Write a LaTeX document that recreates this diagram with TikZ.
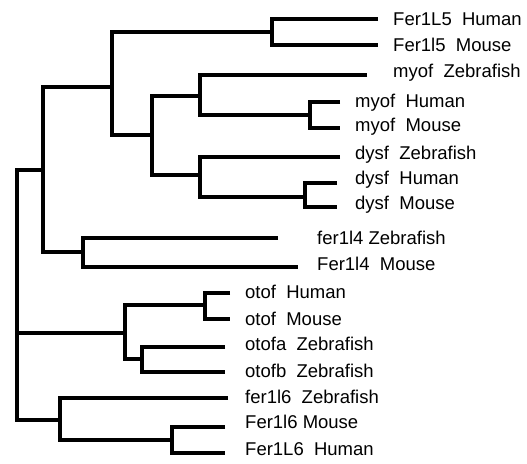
\documentclass[tikz,border=0pt]{standalone}
\usepackage{fontspec}
\setmainfont{Liberation Sans}
\usetikzlibrary{positioning,calc}

\begin{document}
\begin{tikzpicture}[x=1pt, y=-1pt,
    branch/.style={line width=4pt, line join=miter},
    taxon/.style={anchor=west, inner sep=0pt, text height=13.25pt, text depth=0pt, font=\fontsize{18.5}{22}\selectfont}]
    \useasboundingbox (0,0) rectangle (527,463);

    % tips
    \coordinate (t1) at (378,19);
    \coordinate (t2) at (378,45);
    \coordinate (t3) at (367,75);
    \coordinate (t4) at (340,102);
    \coordinate (t5) at (340,128);
    \coordinate (t6) at (340,157);
    \coordinate (t7) at (337,183);
    \coordinate (t8) at (337,207);
    \coordinate (t9) at (278,238);
    \coordinate (t10) at (298,267);
    \coordinate (t11) at (230,293);
    \coordinate (t12) at (230,319);
    \coordinate (t13) at (225,347);
    \coordinate (t14) at (225,372);
    \coordinate (t15) at (228,398);
    \coordinate (t16) at (225,427);
    \coordinate (t17) at (225,453);

    % inner nodes
    \coordinate (R) at (17,333);
    \coordinate (A) at (43,170);
    \coordinate (B) at (112,87);
    \coordinate (F5) at (272,32);
    \coordinate (C) at (152,135);
    \coordinate (M) at (200,96);
    \coordinate (MH) at (310,115);
    \coordinate (D) at (200,175);
    \coordinate (DH) at (305,197);
    \coordinate (F4) at (83,252);
    \coordinate (O) at (125,333);
    \coordinate (OT) at (205,305);
    \coordinate (OZ) at (142,359);
    \coordinate (F6) at (60,420);
    \coordinate (FM) at (172,440);

    % branches
    \draw[branch] (A) -| (R) |- (F6);
    \draw[branch] (R) -- (O);
    \draw[branch] (B) -| (A) |- (F4);
    \draw[branch] (F5) -| (B) |- (C);
    \draw[branch] (t1) -| (F5) |- (t2);
    \draw[branch] (M) -| (C) |- (D);
    \draw[branch] (t3) -| (M) |- (MH);
    \draw[branch] (t4) -| (MH) |- (t5);
    \draw[branch] (t6) -| (D) |- (DH);
    \draw[branch] (t7) -| (DH) |- (t8);
    \draw[branch] (t9) -| (F4) |- (t10);
    \draw[branch] (OT) -| (O) |- (OZ);
    \draw[branch] (t11) -| (OT) |- (t12);
    \draw[branch] (t13) -| (OZ) |- (t14);
    \draw[branch] (t15) -| (F6) |- (FM);
    \draw[branch] (t16) -| (FM) |- (t17);

    % names
    \node[taxon] (n1) at (393,19) {Fer1L5~~Human};
    \node[taxon] (n2) at (393,45) {Fer1l5~~Mouse};
    \node[taxon] (n3) at (393,70.5) {myof~~Zebrafish};
    \node[taxon] (n4) at (355,101) {myof~~Human};
    \node[taxon] (n5) at (355,125) {myof~~Mouse};
    \node[taxon] (n6) at (355,153) {dysf~~Zebrafish};
    \node[taxon] (n7) at (355,178) {dysf~~Human};
    \node[taxon] (n8) at (355,203) {dysf~~Mouse};
    \node[taxon] (n9) at (317,237.5) {fer1l4 Zebrafish};
    \node[taxon] (n10) at (317,264) {Fer1l4~~Mouse};
    \node[taxon] (n11) at (245,291.5) {otof~~Human};
    \node[taxon] (n12) at (245,318.5) {otof~~Mouse};
    \node[taxon] (n13) at (245,343.5) {otofa~~Zebrafish};
    \node[taxon] (n14) at (245,370.5) {otofb~~Zebrafish};
    \node[taxon] (n15) at (245,396.5) {fer1l6~~Zebrafish};
    \node[taxon] (n16) at (245,421.5) {Fer1l6 Mouse};
    \node[taxon] (n17) at (245,448.5) {Fer1L6~~Human};
\end{tikzpicture}
\end{document}
